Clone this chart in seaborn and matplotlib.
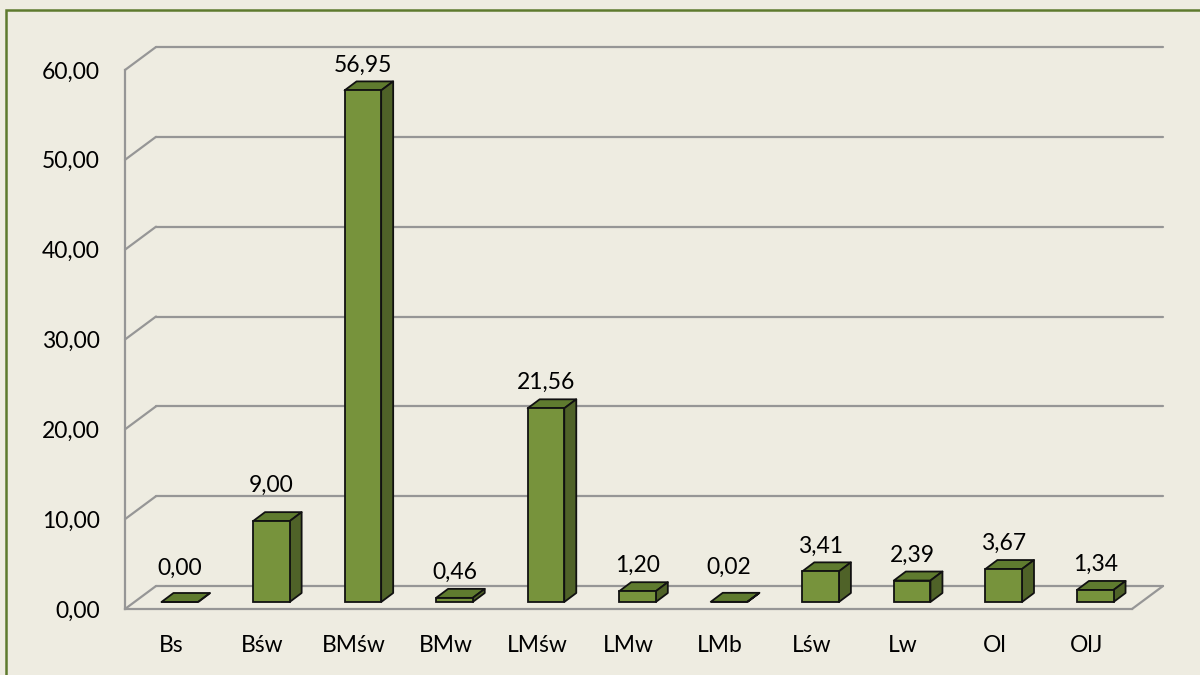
import matplotlib
matplotlib.use("Agg")
import matplotlib.pyplot as plt
from matplotlib.patches import Polygon, Rectangle
import seaborn as sns

# data
categories = ["Bs", "Bśw", "BMśw", "BMw", "LMśw", "LMw", "LMb", "Lśw", "Lw", "Ol", "OlJ"]
values = [0.00, 9.00, 56.95, 0.46, 21.56, 1.20, 0.02, 3.41, 2.39, 3.67, 1.34]
yticks = [0, 10, 20, 30, 40, 50, 60]

bg = "#EEECE1"
front_col = "#77933C"
top_col = "#5F7B2F"
side_col = "#4F6228"
grid_col = "#969696"

sns.set_style("white")
plt.rcParams["font.family"] = ["Lato", "DejaVu Sans"]

fig = plt.figure(figsize=(12, 6.75), dpi=100, facecolor=bg)
# front plane of the 3D box, in figure fractions
ax = fig.add_axes([125 / 1200, 66 / 675, 1007 / 1200, 539 / 675])
ax.set_facecolor("none")
ax.set_xlim(-0.5, len(categories) - 0.5)
ax.set_ylim(0, 60)

# pixel -> data unit helpers
px_x = len(categories) / 1007
px_y = 60 / 539

# wall depth and bar placement (in pixels)
wall_dx, wall_dy = 31 * px_x, 23 * px_y
bar_dx, bar_dy = 9 * px_x, 7 * px_y
depth_dx, depth_dy = 12 * px_x, 9 * px_y
bar_w = 0.40

# walls: left wall diagonals + back wall gridlines
x0, x1 = -0.5, len(categories) - 0.5
for t in yticks:
    ax.plot([x0, x0 + wall_dx], [t, t + wall_dy], color=grid_col, lw=1.6, clip_on=False, zorder=1)
    ax.plot([x0 + wall_dx, x1 + wall_dx], [t + wall_dy, t + wall_dy], color=grid_col, lw=1.6,
            clip_on=False, zorder=1)
# floor right edge
ax.plot([x1, x1 + wall_dx], [0, wall_dy], color=grid_col, lw=1.6, clip_on=False, zorder=1)

# front faces
sns.barplot(x=categories, y=values, color=front_col, saturation=1, width=bar_w,
            edgecolor="#111111", linewidth=1.3, ax=ax, zorder=3)
for p in ax.patches:
    p.set_x(p.get_x() + bar_dx)
    p.set_y(bar_dy)
    p.set_clip_on(False)

# excel lifts a few labels higher than the rest (pixels)
label_lift = {"Bs": 8, "Bśw": 10, "LMb": 9}

# top and side faces of each bar
for i, v in enumerate(values):
    xl = i - bar_w / 2 + bar_dx
    xr = i + bar_w / 2 + bar_dx
    yb = bar_dy
    yt = bar_dy + v
    top = Polygon([(xl, yt), (xr, yt), (xr + depth_dx, yt + depth_dy), (xl + depth_dx, yt + depth_dy)],
                  closed=True, facecolor=top_col, edgecolor="#111111", lw=1.3, zorder=2.5,
                  clip_on=False, joinstyle="round")
    side = Polygon([(xr, yb), (xr, yt), (xr + depth_dx, yt + depth_dy), (xr + depth_dx, yb + depth_dy)],
                   closed=True, facecolor=side_col, edgecolor="#111111", lw=1.3, zorder=2.5,
                   clip_on=False, joinstyle="round")
    ax.add_patch(top)
    ax.add_patch(side)
    gap = 10 + label_lift.get(categories[i], 0)
    ax.text(i + bar_dx, yt + depth_dy + gap * px_y, f"{v:.2f}".replace(".", ","),
            ha="center", va="baseline", fontsize=16.5, color="black", zorder=4)

# axes styling
ax.set_yticks(yticks)
ax.set_yticklabels([f"{t:.2f}".replace(".", ",") for t in yticks])
ax.tick_params(axis="y", length=0, pad=18, labelsize=16.5, labelcolor="black")
ax.tick_params(axis="x", length=0, pad=19, labelsize=16.5, labelcolor="black")
ax.set_xlabel("")
ax.set_ylabel("")
for s in ["top", "right"]:
    ax.spines[s].set_visible(False)
for s in ["left", "bottom"]:
    ax.spines[s].set_color(grid_col)
    ax.spines[s].set_linewidth(1.6)
    ax.spines[s].set_zorder(1)

# chart border (only top and left edges visible in the crop)
fig.patches.append(Rectangle((6 / 1200, -0.1), 1.2, (675 - 10) / 675 + 0.1, transform=fig.transFigure,
                             fill=False, edgecolor="#5E7A2E", lw=1.8))

fig.savefig("out.png", dpi=100, facecolor=bg)
